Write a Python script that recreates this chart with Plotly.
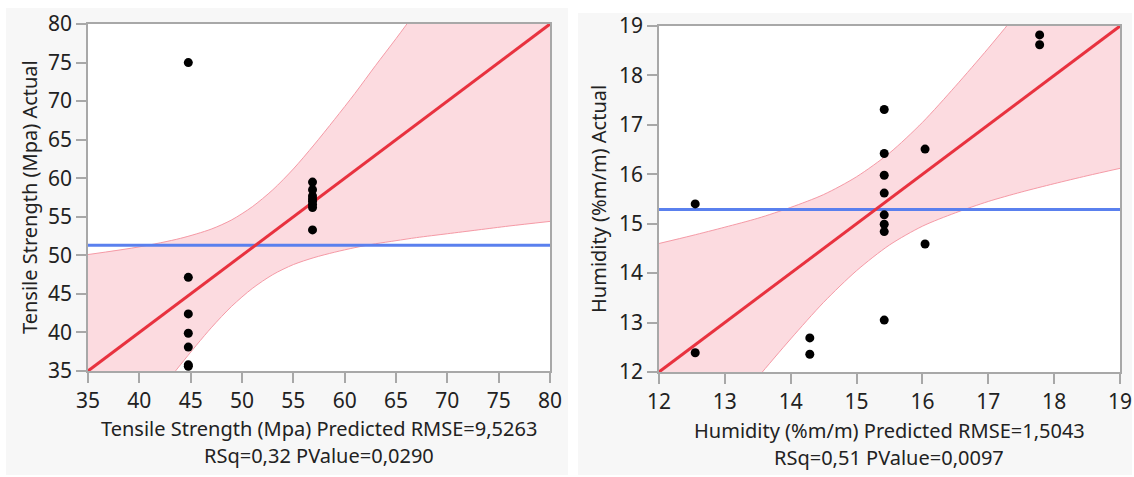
import plotly.graph_objects as go

W, H = 1134, 477
FONT = "Noto Sans"

# ---------------- Left panel data (Tensile Strength) ----------------
ts_pred = [44.77] * 7 + [56.87] * 8
ts_actual = [75.0, 47.15, 42.4, 39.9, 38.1, 35.8, 35.6,
             59.5, 58.5, 57.7, 57.3, 57.0, 56.6, 56.2, 53.3]
ts_mean = 51.3
ts_fit_x = [35, 80]
ts_fit_y = [35, 80]
ts_band_x = [35, 40, 44, 47, 49, 51, 53, 55, 57, 59, 61, 63, 65, 67, 70, 73, 76, 80]
ts_band_upper = [50.1, 51.1, 52.2, 53.4, 54.6, 56.3, 58.5, 61.2, 64.3, 67.6, 71.0,
                 74.6, 78.1, 81.7, 87.2, 92.7, 98.2, 105.6]
ts_band_lower = [19.9, 28.9, 35.8, 40.6, 43.4, 45.7, 47.5, 48.8, 49.7, 50.4, 51.0,
                 51.5, 51.9, 52.3, 52.8, 53.3, 53.8, 54.4]
ts_ticks = [35, 40, 45, 50, 55, 60, 65, 70, 75, 80]

# ---------------- Right panel data (Humidity) ----------------
hu_pred = [12.55, 12.55, 14.29, 14.29, 15.42, 15.42, 15.42, 15.42, 15.42, 15.42,
           15.42, 15.42, 16.04, 16.04, 17.78, 17.78]
hu_actual = [15.40, 12.39, 12.69, 12.36, 17.31, 16.42, 15.98, 15.62, 15.18, 14.99,
             14.84, 13.05, 16.51, 14.59, 18.82, 18.62]
hu_mean = 15.29
hu_fit_x = [12, 19]
hu_fit_y = [12, 19]
hu_band_x = [12, 12.5, 13, 13.5, 14, 14.5, 15, 15.5, 16, 16.5, 17, 17.5, 18, 18.5, 19]
hu_band_upper = [14.60, 14.76, 14.93, 15.11, 15.33, 15.59, 15.95, 16.43, 17.05,
                 17.78, 18.55, 19.36, 20.19, 21.03, 21.88]
hu_band_lower = [9.40, 10.24, 11.07, 11.89, 12.67, 13.41, 14.05, 14.57, 14.95,
                 15.22, 15.45, 15.64, 15.81, 15.97, 16.12]
hu_ticks = [12, 13, 14, 15, 16, 17, 18, 19]

BAND_FILL = "#fcdbe0"
BAND_EDGE = "#f59aa6"
FIT_COLOR = "#e8323f"
MEAN_COLOR = "#5a80ee"

fig = go.Figure()


def add_panel(xa, ya, bx, bu, bl, fx, fy, mean, xr, px, py):
    xs = "x" if xa == 1 else f"x{xa}"
    ys = "y" if ya == 1 else f"y{ya}"
    fig.add_trace(go.Scatter(x=bx, y=bl, mode="lines",
                             line=dict(color=BAND_EDGE, width=1, shape="spline", smoothing=0.8),
                             xaxis=xs, yaxis=ys, showlegend=False))
    fig.add_trace(go.Scatter(x=bx, y=bu, mode="lines", fill="tonexty", fillcolor=BAND_FILL,
                             line=dict(color=BAND_EDGE, width=1, shape="spline", smoothing=0.8),
                             xaxis=xs, yaxis=ys, showlegend=False))
    fig.add_trace(go.Scatter(x=xr, y=[mean, mean], mode="lines",
                             line=dict(color=MEAN_COLOR, width=3),
                             xaxis=xs, yaxis=ys, showlegend=False))
    fig.add_trace(go.Scatter(x=fx, y=fy, mode="lines", line=dict(color=FIT_COLOR, width=3),
                             xaxis=xs, yaxis=ys, showlegend=False))
    fig.add_trace(go.Scatter(x=px, y=py, mode="markers",
                             marker=dict(color="black", size=9), cliponaxis=False,
                             xaxis=xs, yaxis=ys, showlegend=False))


add_panel(1, 1, ts_band_x, ts_band_upper, ts_band_lower, ts_fit_x, ts_fit_y, ts_mean,
          [35, 80], ts_pred, ts_actual)
add_panel(2, 2, hu_band_x, hu_band_upper, hu_band_lower, hu_fit_x, hu_fit_y, hu_mean,
          [12, 19], hu_pred, hu_actual)


def px2fx(p):
    return p / W


def px2fy(p):
    return 1 - p / H


axis_common = dict(showgrid=False, zeroline=False, showline=True, linecolor="#a8a8a8",
                   linewidth=1.5, mirror=True, ticks="outside", ticklen=10,
                   tickcolor="#a8a8a8", tickwidth=1.5, automargin=False,
                   tickfont=dict(family=FONT, size=21, color="#222222"), fixedrange=True)

fig.update_layout(
    width=W, height=H, autosize=False,
    margin=dict(l=0, r=0, t=0, b=0, autoexpand=False),
    paper_bgcolor="white", plot_bgcolor="white",
    font=dict(family=FONT),
    xaxis=dict(domain=[px2fx(88), px2fx(550)], range=[35, 80], tickvals=ts_ticks,
               anchor="y", **axis_common),
    yaxis=dict(domain=[px2fy(371), px2fy(24)], range=[35, 80], tickvals=ts_ticks,
               anchor="x", **axis_common),
    xaxis2=dict(domain=[px2fx(659), px2fx(1120)], range=[12, 19], tickvals=hu_ticks,
                anchor="y2", **axis_common),
    yaxis2=dict(domain=[px2fy(372), px2fy(26)], range=[12, 19], tickvals=hu_ticks,
                anchor="x2", **axis_common),
)

# panel backgrounds
fig.add_shape(type="rect", xref="paper", yref="paper", x0=px2fx(6), x1=px2fx(568),
              y0=px2fy(475), y1=px2fy(8), fillcolor="#f7f7f7", line=dict(width=0),
              layer="below")
fig.add_shape(type="rect", xref="paper", yref="paper", x0=px2fx(578), x1=px2fx(1132),
              y0=px2fy(475), y1=px2fy(13), fillcolor="#f7f7f7", line=dict(width=0),
              layer="below")
# white plot areas on top of the panel backgrounds
fig.add_shape(type="rect", xref="x domain", yref="y domain", x0=0, x1=1, y0=0, y1=1,
              fillcolor="white", line=dict(width=0), layer="below")
fig.add_shape(type="rect", xref="x2 domain", yref="y2 domain", x0=0, x1=1, y0=0, y1=1,
              fillcolor="white", line=dict(width=0), layer="below")

tfont = dict(family=FONT, size=20, color="#222222")


def ann(text, x, y, angle=0):
    fig.add_annotation(text=text, xref="paper", yref="paper", x=px2fx(x), y=px2fy(y),
                       xanchor="center", yanchor="middle", showarrow=False,
                       textangle=angle, font=tfont)


ann("Tensile Strength (Mpa) Predicted RMSE=9,5263", 319, 428)
ann("RSq=0,32 PValue=0,0290", 319, 455)
ann("Tensile Strength (Mpa) Actual", 29, 197, -90)
ann("Humidity (%m/m) Predicted RMSE=1,5043", 889, 430)
ann("RSq=0,51 PValue=0,0097", 889, 457)
ann("Humidity (%m/m) Actual", 598, 199, -90)

fig.write_html("out.html")
